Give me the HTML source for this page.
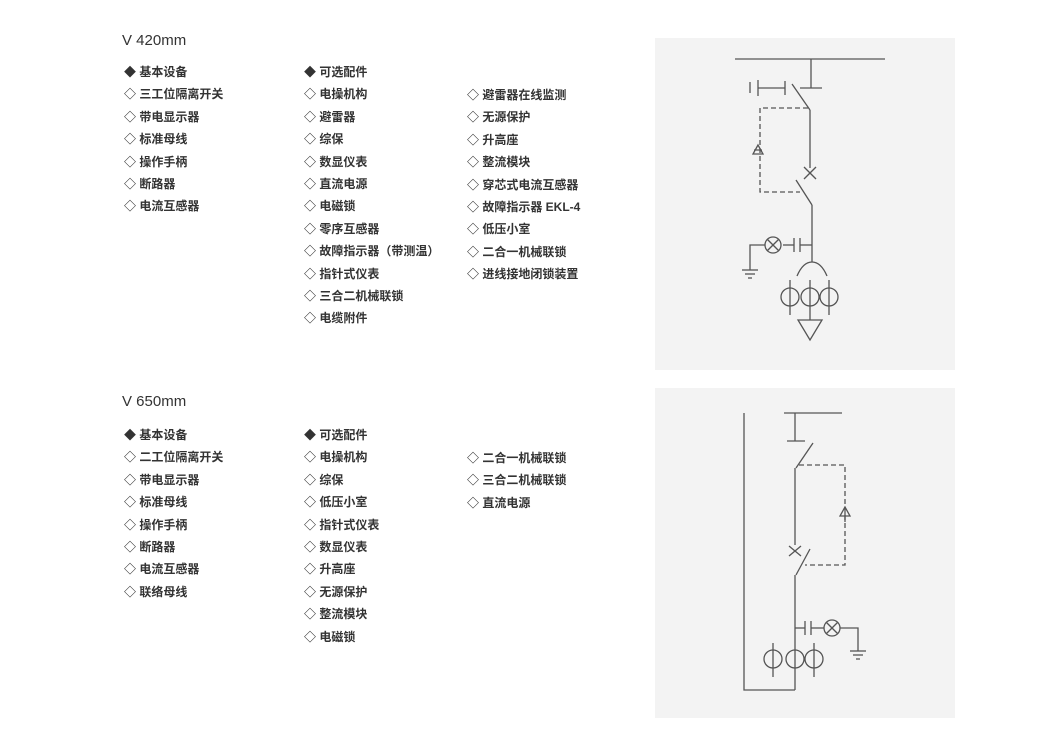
<!DOCTYPE html>
<html><head><meta charset="utf-8"><style>
body{margin:0;width:1045px;height:738px;background:#fff;position:relative;overflow:hidden;font-family:"Liberation Sans","Noto Sans CJK SC",sans-serif;color:#2a2a2a}
.t{position:absolute;font-size:15px;color:#333}
.l{position:absolute;font-size:12px;line-height:22.4px;white-space:nowrap;font-weight:bold;color:#333}
.l div{white-space:nowrap}
.p{position:absolute;background:#f3f3f3}
svg{position:absolute;left:0;top:0}
</style></head><body>
<div class="t" style="left:122px;top:32px">V 420mm</div>
<div class="l" style="left:124px;top:61px"><div>◆ 基本设备</div><div>◇ 三工位隔离开关</div><div>◇ 带电显示器</div><div>◇ 标准母线</div><div>◇ 操作手柄</div><div>◇ 断路器</div><div>◇ 电流互感器</div></div>
<div class="l" style="left:304px;top:61px"><div>◆ 可选配件</div><div>◇ 电操机构</div><div>◇ 避雷器</div><div>◇ 综保</div><div>◇ 数显仪表</div><div>◇ 直流电源</div><div>◇ 电磁锁</div><div>◇ 零序互感器</div><div>◇ 故障指示器（带测温）</div><div>◇ 指针式仪表</div><div>◇ 三合二机械联锁</div><div>◇ 电缆附件</div></div>
<div class="l" style="left:467px;top:84px"><div>◇ 避雷器在线监测</div><div>◇ 无源保护</div><div>◇ 升高座</div><div>◇ 整流模块</div><div>◇ 穿芯式电流互感器</div><div>◇ 故障指示器 EKL-4</div><div>◇ 低压小室</div><div>◇ 二合一机械联锁</div><div>◇ 进线接地闭锁装置</div></div>

<div class="t" style="left:122px;top:393px">V 650mm</div>
<div class="l" style="left:124px;top:424px"><div>◆ 基本设备</div><div>◇ 二工位隔离开关</div><div>◇ 带电显示器</div><div>◇ 标准母线</div><div>◇ 操作手柄</div><div>◇ 断路器</div><div>◇ 电流互感器</div><div>◇ 联络母线</div></div>
<div class="l" style="left:304px;top:424px"><div>◆ 可选配件</div><div>◇ 电操机构</div><div>◇ 综保</div><div>◇ 低压小室</div><div>◇ 指针式仪表</div><div>◇ 数显仪表</div><div>◇ 升高座</div><div>◇ 无源保护</div><div>◇ 整流模块</div><div>◇ 电磁锁</div></div>
<div class="l" style="left:467px;top:447px"><div>◇ 二合一机械联锁</div><div>◇ 三合二机械联锁</div><div>◇ 直流电源</div></div>

<div class="p" style="left:655px;top:38px;width:300px;height:332px"></div>
<div class="p" style="left:655px;top:388px;width:300px;height:330px"></div>
<svg width="1045" height="738" fill="none" stroke="#555" stroke-width="1.3">
<!-- panel 1 -->
<line x1="735" y1="59" x2="885" y2="59"/>
<line x1="811" y1="59" x2="811" y2="88"/><line x1="800" y1="88" x2="822" y2="88"/>
<line x1="750" y1="82" x2="750" y2="93"/><line x1="758" y1="80" x2="758" y2="96"/><line x1="758" y1="88" x2="785" y2="88"/><line x1="785" y1="81" x2="785" y2="95"/>
<line x1="792" y1="84" x2="810" y2="110"/>
<line x1="810" y1="110" x2="810" y2="168"/>
<line x1="804" y1="167" x2="816" y2="179"/><line x1="816" y1="167" x2="804" y2="179"/>
<line x1="796" y1="180" x2="812" y2="205"/>
<line x1="812" y1="205" x2="812" y2="262"/>
<path d="M808 108H760V192H800" stroke-dasharray="5,3"/>
<path d="M758 145l-5 9h10z M754 150h8"/>
<line x1="812" y1="245" x2="800" y2="245"/><line x1="800" y1="238" x2="800" y2="252"/><line x1="794" y1="238" x2="794" y2="252"/><line x1="794" y1="245" x2="783" y2="245"/>
<circle cx="773" cy="245" r="8"/><line x1="767" y1="239" x2="779" y2="251"/><line x1="779" y1="239" x2="767" y2="251"/>
<path d="M765 245H750V270"/><line x1="742" y1="270" x2="758" y2="270"/><line x1="745" y1="274" x2="755" y2="274"/><line x1="748" y1="278" x2="752" y2="278"/>
<path d="M797 276Q803 262 812 262Q821 262 827 276"/>
<circle cx="790" cy="297" r="9"/><circle cx="810" cy="297" r="9"/><circle cx="829" cy="297" r="9"/>
<line x1="790" y1="280" x2="790" y2="315"/><line x1="810" y1="280" x2="810" y2="320"/><line x1="829" y1="280" x2="829" y2="315"/>
<path d="M798 320H822L810 340Z"/>
<!-- panel 2 -->
<line x1="784" y1="413" x2="842" y2="413"/>
<line x1="795" y1="413" x2="795" y2="441"/><line x1="787" y1="441" x2="805" y2="441"/>
<line x1="813" y1="443" x2="796" y2="468"/>
<line x1="795" y1="468" x2="795" y2="545"/>
<line x1="789" y1="546" x2="801" y2="556"/><line x1="801" y1="546" x2="789" y2="556"/>
<line x1="810" y1="549" x2="796" y2="575"/>
<line x1="795" y1="575" x2="795" y2="690"/>
<path d="M744 413V690H795"/>
<path d="M799 465H845V565H805" stroke-dasharray="5,3"/>
<path d="M845 507l-5 9h10z M845 512v10"/>
<line x1="795" y1="628" x2="805" y2="628"/><line x1="805" y1="621" x2="805" y2="635"/><line x1="811" y1="621" x2="811" y2="635"/><line x1="811" y1="628" x2="824" y2="628"/>
<circle cx="832" cy="628" r="8"/><line x1="826" y1="622" x2="838" y2="634"/><line x1="838" y1="622" x2="826" y2="634"/>
<path d="M840 628H858V651"/><line x1="850" y1="651" x2="866" y2="651"/><line x1="853" y1="655" x2="863" y2="655"/><line x1="856" y1="659" x2="860" y2="659"/>
<circle cx="773" cy="659" r="9"/><circle cx="795" cy="659" r="9"/><circle cx="814" cy="659" r="9"/>
<line x1="773" y1="643" x2="773" y2="677"/><line x1="814" y1="643" x2="814" y2="677"/>
</svg>
</body></html>
